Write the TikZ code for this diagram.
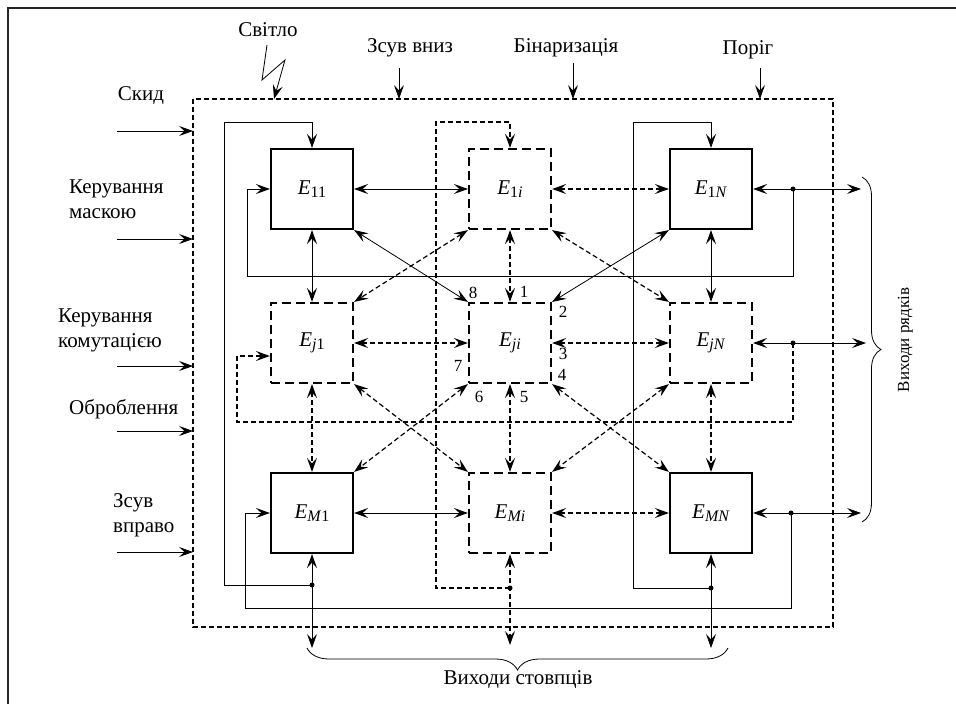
\documentclass[tikz,border=0pt]{standalone}
\usepackage{fontspec}
\setmainfont{Liberation Serif}
\usetikzlibrary{arrows.meta,decorations.pathreplacing,calc}
\newcommand{\Elab}[1]{\textit{E}\raisebox{-2.5pt}{\fontsize{16}{16}\selectfont #1}}
\begin{document}
\begin{tikzpicture}[x=1pt,y=-1pt,
  >={Stealth[length=14pt,width=10pt,inset=5.5pt]},
  box/.style={draw, line width=2.2pt, minimum width=82pt, minimum height=80pt, inner sep=0pt, font=\fontsize{21}{21}\selectfont},
  dbox/.style={box, dash pattern=on 9pt off 5pt},
  conn/.style={line width=0.8pt},
  dconn/.style={line width=1.2pt, dash pattern=on 5pt off 3pt},
  odash/.style={line width=1.3pt, dash pattern=on 5pt off 3pt},
  frame/.style={line width=1.6pt, black!85},
  lab/.style={font=\fontsize{21}{25}\selectfont, inner sep=0pt},
  num/.style={font=\fontsize{17}{17}\selectfont, inner sep=0pt},
  dot/.style={circle, fill, inner sep=0pt, minimum size=5pt}
]
\useasboundingbox (0,0) rectangle (956,704);
% outer frame
\draw[frame] (8,704) -- (8,8) -- (956,8);
% dashed enclosure
\draw[odash] (193,99) rectangle (833,627);

% elements
\node[box]  (E11) at (312,189) {\Elab{11}};
\node[dbox] (E1i) at (510,189) {\Elab{1\textit{i}}};
\node[box]  (E1N) at (711,189) {\Elab{1\textit{N}}};
\node[dbox] (Ej1) at (312,343) {\Elab{\textit{j}1}};
\node[dbox] (Eji) at (510,343) {\Elab{\textit{ji}}};
\node[dbox] (EjN) at (711,343) {\Elab{\textit{jN}}};
\node[box]  (EM1) at (312,513) {\Elab{\textit{M}1}};
\node[dbox] (EMi) at (510,513) {\Elab{\textit{Mi}}};
\node[box]  (EMN) at (711,513) {\Elab{\textit{MN}}};

% horizontal links
\draw[conn,<->]  (E11) -- (E1i);
\draw[dconn,<->] (E1i) -- (E1N);
\draw[dconn,<->] (Ej1) -- (Eji);
\draw[dconn,<->] (Eji) -- (EjN);
\draw[conn,<->]  (EM1) -- (EMi);
\draw[dconn,<->] (EMi) -- (EMN);
% vertical links
\draw[conn,<->]  (E11) -- (Ej1);
\draw[dconn,<->] (E1i) -- (Eji);
\draw[conn,<->]  (E1N) -- (EjN);
\draw[dconn,<->] (Ej1) -- (EM1);
\draw[dconn,<->] (Eji) -- (EMi);
\draw[dconn,<->] (EjN) -- (EMN);
% diagonal links
\draw[conn,<->]  (E11.south east) -- (Eji.north west);
\draw[dconn,<->] (E1i.south west) -- (Ej1.north east);
\draw[dconn,<->] (E1i.south east) -- (EjN.north west);
\draw[conn,<->]  (E1N.south west) -- (Eji.north east);
\draw[dconn,<->] (Ej1.south east) -- (EMi.north west);
\draw[dconn,<->] (Eji.south west) -- (EM1.north east);
\draw[dconn,<->] (Eji.south east) -- (EMN.north west);
\draw[dconn,<->] (EjN.south west) -- (EMi.north east);

% column loops and outputs
\coordinate (d1) at (312,585); \coordinate (o1) at (312,648);
\coordinate (d2) at (510,588); \coordinate (o2) at (510,645);
\coordinate (d3) at (711,588); \coordinate (o3) at (711,648);
\draw[conn,->]  (d1) -- (224,585) -- (224,122) -| (E11.north);
\draw[dconn,->] (d2) -- (436,588) -- (436,122) -| (E1i.north);
\draw[conn,->]  (d3) -- (633,588) -- (633,122) -| (E1N.north);
\draw[conn,<->]  (EM1) -- (o1);
\draw[dconn,<->] (EMi) -- (o2);
\draw[conn,<->]  (EMN) -- (o3);

% row loops and outputs
\coordinate (r1) at (793,189); \coordinate (q1) at (861,189);
\coordinate (r2) at (793,343); \coordinate (q2) at (866,343);
\coordinate (r3) at (791,513); \coordinate (q3) at (861,513);
\draw[conn,<->] (E1N) -- (q1);
\draw[conn,<->] (EjN) -- (q2);
\draw[conn,<->] (EMN) -- (q3);
\draw[conn,->]  (r1) -- (793,276) -- (247,276) |- (E11.west);
\draw[dconn,->] (r2) -- (793,422) -- (237,422) |- ($(Ej1.west)+(0,13)$);
\draw[conn,->]  (r3) -- (791,608) -- (245,608) |- (EM1.west);

\node[dot] (dt1) at (d1) {};
\node[dot] (dt2) at (d2) {};
\node[dot] (dt3) at (d3) {};
\node[dot] (dr1) at (r1) {};
\node[dot] (dr2) at (r2) {};
\node[dot] (dr3) at (r3) {};

% left inputs
\foreach \yy [count=\k] in {131,239,366,431,552} {
  \coordinate (ls\k) at (117,\yy);
  \coordinate (le\k) at (193,\yy);
  \draw[conn,->] (ls\k) -- (le\k);
}
% top inputs
\coordinate (lt1) at (267,45); \coordinate (lt2) at (262,80); \coordinate (lt3) at (285,60); \coordinate (lte) at (274,99);
\draw[conn,->] (lt1) -- (lt2) -- (lt3) -- (lte);
\coordinate (ts2) at (399,68); \coordinate (te2) at (399,99);
\coordinate (ts3) at (573,63); \coordinate (te3) at (573,99);
\coordinate (ts4) at (760,68); \coordinate (te4) at (760,99);
\draw[conn,->] (ts2) -- (te2);
\draw[conn,->] (ts3) -- (te3);
\draw[conn,->] (ts4) -- (te4);

% braces
\draw[conn, decorate, decoration={brace, amplitude=19pt}] (862,177) -- (862,522);
\draw[conn, decorate, decoration={brace, amplitude=22pt}] (728,648) -- (307,648);

% labels
\node[lab, anchor=base] (tSv)  at (268,36) {Світло};
\node[lab, anchor=base] (tZv)  at (410,52) {Зсув вниз};
\node[lab, anchor=base] (tBin) at (566,52) {Бінаризація};
\node[lab, anchor=base] (tPor) at (748,54) {Поріг};
\node[lab, anchor=base] (tSk)  at (141,100) {Скид};
\node[lab, anchor=north west, align=left] (tKm) at (69,180) {Керування\\маскою};
\node[lab, anchor=north west, align=left] (tKk) at (58,309) {Керування\\комутацією};
\node[lab, anchor=base west] (tOb) at (69,414) {Оброблення};
\node[lab, anchor=north west, align=left] (tZp) at (113,493) {Зсув\\вправо};
\node[lab, anchor=base] (tVs) at (518,684) {Виходи стовпців};
\node[lab, anchor=base, rotate=90, font=\fontsize{17}{17}\selectfont] (tVr) at (909,340) {Виходи рядків};

% terminal numbers
\node[num] (n8) at (473,293) {8};
\node[num] (n1) at (524,292) {1};
\node[num] (n2) at (563,312) {2};
\node[num] (n3) at (563,354) {3};
\node[num] (n4) at (562,375) {4};
\node[num] (n5) at (524,397) {5};
\node[num] (n6) at (479,397) {6};
\node[num] (n7) at (458,366) {7};
\end{tikzpicture}
\end{document}
